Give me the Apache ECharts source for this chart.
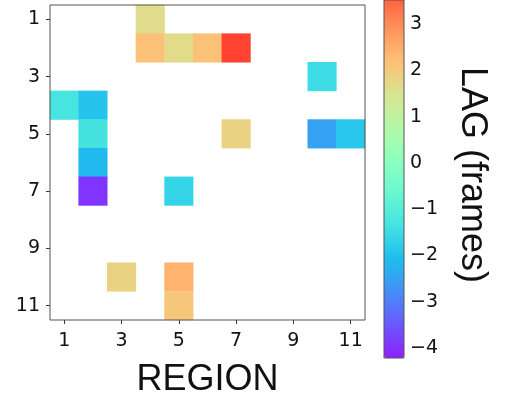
<!DOCTYPE html>
<html><head><meta charset="utf-8">
<script src="https://cdn.jsdelivr.net/npm/echarts@6/dist/echarts.min.js"></script>
<style>html,body{margin:0;padding:0;background:#fff}#c{width:506px;height:395px}</style>
</head><body><div id="c"></div>
<script>
// ---- data ----
const regions = ['1','2','3','4','5','6','7','8','9','10','11'];
const cellCol = [4, 4, 5, 6, 7, 10, 1, 2, 2, 7, 10, 11, 2, 2, 5, 3, 5, 5];
const cellRow = [1, 2, 2, 2, 2, 3, 4, 4, 5, 5, 5, 5, 6, 7, 7, 10, 10, 11];
const cellLag = [1.62, 2.16, 1.66, 2.16, 3.97, -1.46, -1.29, -1.94, -1.32, 1.85, -2.50, -1.89, -2.11, -3.96, -1.63, 1.85, 2.42, 2.07];
const lagTicks = [-4, -3, -2, -1, 0, 1, 2, 3];
const lagMin = -4.22, lagMax = 4.4;

// matplotlib "rainbow" colormap stops, slightly translucent over white (styling)
function rainbow(x){
  const a = 0.88;
  const r = Math.min(1, Math.abs(2*x - 0.5));
  const g = Math.sin(Math.PI*x);
  const b = Math.cos(Math.PI*x/2);
  const h = v => Math.round(Math.max(0,Math.min(1,a*v + 1 - a))*255).toString(16).padStart(2,'0');
  return '#' + h(r) + h(g) + h(b);
}
const cmap = [];
for (let i = 0; i <= 32; i++) cmap.push(rainbow(i/32));

const heatData = cellLag.map((v, i) => [cellCol[i]-1, cellRow[i]-1, v]);

const tickFont = 'DejaVu Sans';
const chart = echarts.init(document.getElementById('c'), null, {renderer:'canvas'});
chart.setOption({
  animation: false,
  backgroundColor: '#fff',
  grid: [
    {left: 50, top: 5, width: 315, height: 315, show: true, borderColor: '#555', borderWidth: 1, backgroundColor: 'transparent', z: 10, containLabel: false, outerBoundsMode: 'none'},
    {left: 384, top: 0, width: 20, height: 358, show: true, borderColor: '#555', borderWidth: 1, backgroundColor: 'transparent', z: 10, containLabel: false, outerBoundsMode: 'none'}
  ],
  xAxis: [
    {type: 'category', gridIndex: 0, data: regions, position: 'bottom',
     axisLine: {show: false},
     axisTick: {show: true, interval: 1, alignWithLabel: true, length: 4, lineStyle: {color: '#333'}},
     axisLabel: {interval: 1, margin: 12, fontFamily: tickFont, fontSize: 19, color: '#111'},
     splitLine: {show: false},
     name: 'REGION', nameLocation: 'middle', nameGap: 42,
     nameTextStyle: {fontFamily: 'Liberation Sans', fontSize: 36, color: '#111'}},
    {type: 'value', gridIndex: 1, show: false, min: 0, max: 1}
  ],
  yAxis: [
    {type: 'category', gridIndex: 0, data: regions, inverse: true,
     axisLine: {show: false},
     axisTick: {show: true, interval: 1, alignWithLabel: true, length: 4, lineStyle: {color: '#333'}},
     axisLabel: {interval: 1, margin: 10, fontFamily: tickFont, fontSize: 19, color: '#111'},
     splitLine: {show: false}},
    {type: 'value', gridIndex: 1, position: 'right', min: -4.22, max: 3.526,
     axisLine: {show: false},
     splitLine: {show: false},
     axisTick: {show: true, length: 4, lineStyle: {color: '#333'}, customValues: lagTicks},
     axisLabel: {margin: 6, fontFamily: tickFont, fontSize: 19, color: '#111', customValues: lagTicks,
       formatter: v => String(v).replace('-', '\u2212')},
     name: 'LAG (frames)', nameLocation: 'middle', nameRotate: -90, nameGap: 50,
     nameTextStyle: {fontFamily: 'Liberation Sans', fontSize: 36, color: '#111', padding: [0, 8, 0, 0]}}
  ],
  visualMap: {
    type: 'continuous', min: lagMin, max: lagMax, seriesIndex: 0,
    calculable: false, orient: 'vertical',
    left: 384, top: -40, itemWidth: 20, itemHeight: 398, padding: 0,
    inRange: {color: cmap}, text: null, hoverLink: false
  },
  series: [{
    type: 'heatmap', xAxisIndex: 0, yAxisIndex: 0, data: heatData,
    itemStyle: {borderWidth: 0},
    emphasis: {disabled: true}
  }]
});
</script></body></html>
